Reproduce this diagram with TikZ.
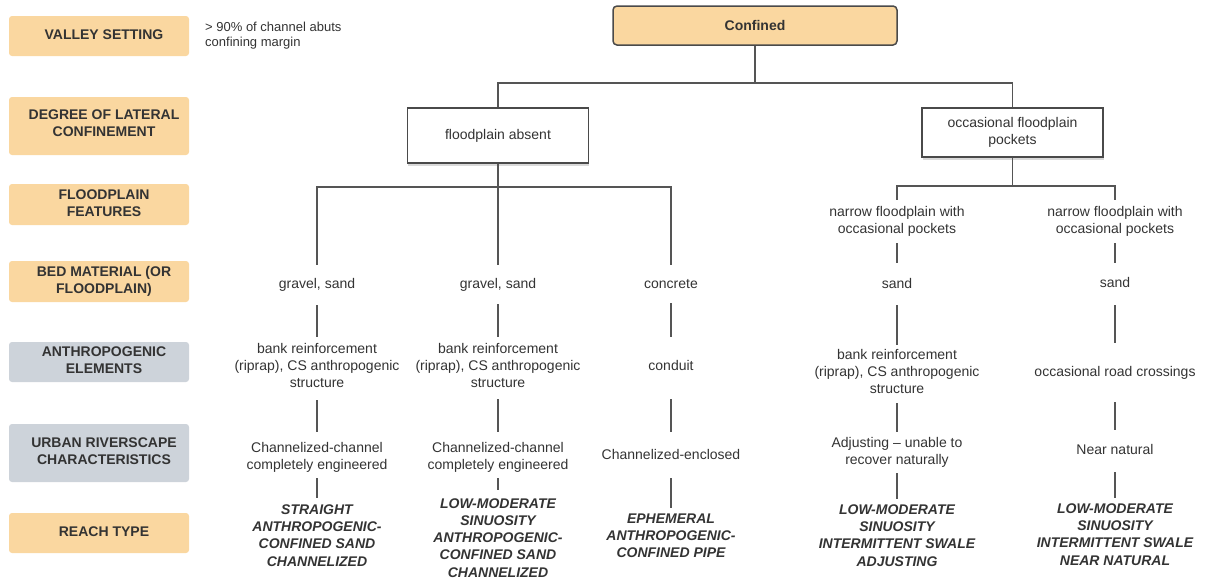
\documentclass[tikz,border=0pt]{standalone}
\usepackage{fontspec}
\setmainfont{Liberation Sans}
\usetikzlibrary{shadows}
\definecolor{orng}{HTML}{FAD7A0}
\definecolor{grayb}{HTML}{CDD3DA}
\definecolor{txt}{HTML}{333333}
\definecolor{lin}{HTML}{555555}
\definecolor{bord}{HTML}{4A4A4A}
\newcommand{\myfs}{\fontsize{14}{17}\selectfont}
\newcommand{\myfsr}{\fontsize{14}{17.3}\selectfont}
\newcommand{\myfsn}{\fontsize{13}{15}\selectfont}
\tikzset{
  lblbox/.style={rectangle, rounded corners=3pt, minimum width=180pt, inner sep=0pt},
  obox/.style={lblbox, fill=orng},
  gbox/.style={lblbox, fill=grayb},
  lbltext/.style={inner sep=0pt, align=center, text=txt, font=\bfseries\myfs},
  tnode/.style={inner sep=0pt, align=center, text=txt, font=\myfs},
  rnode/.style={inner sep=0pt, align=center, text=txt, font=\bfseries\itshape\myfsr},
  conn/.style={draw=lin, line width=1.1pt},
  wbox/.style={rectangle, draw=bord, line width=1.5pt, fill=white, minimum width=181pt,
    inner sep=0pt, align=center, text=txt, font=\myfs,
    drop shadow={shadow xshift=0.5pt, shadow yshift=-3pt, opacity=0.3}},
}
\begin{document}
\begin{tikzpicture}[x=1pt,y=-1pt]
\useasboundingbox (0,0) rectangle (1211,581);
% left category labels
\node[obox, minimum height=40pt] (l1) at (99,36) {};
\node[lbltext] (l1t) at ([xshift=5pt]l1.center) {\strut VALLEY SETTING};
\node[obox, minimum height=58pt] (l2) at (99,126) {};
\node[lbltext] (l2t) at ([xshift=5pt,yshift=1pt]l2.center) {\strut DEGREE OF LATERAL\\CONFINEMENT\strut};
\node[obox, minimum height=41pt] (l3) at (99,204.5) {};
\node[lbltext] (l3t) at ([xshift=5pt]l3.center) {\strut FLOODPLAIN\\FEATURES\strut};
\node[obox, minimum height=41pt] (l4) at (99,281.5) {};
\node[lbltext] (l4t) at ([xshift=5pt]l4.center) {\strut BED MATERIAL (OR\\FLOODPLAIN)\strut};
\node[gbox, minimum height=40pt] (l5) at (99,362) {};
\node[lbltext] (l5t) at ([xshift=5pt]l5.center) {\strut ANTHROPOGENIC\\ELEMENTS\strut};
\node[gbox, minimum height=58pt] (l6) at (99,453) {};
\node[lbltext] (l6t) at ([xshift=5pt]l6.center) {\strut URBAN RIVERSCAPE\\CHARACTERISTICS\strut};
\node[obox, minimum height=40pt] (l7) at (99,533) {};
\node[lbltext] (l7t) at ([xshift=5pt]l7.center) {\strut REACH TYPE};
% note
\node[inner sep=0pt, anchor=north west, align=left, text=txt, font=\myfsn] (note) at (205,21)
  {\strut > 90\% of channel abuts\\confining margin\strut};
% top of tree
\node[rectangle, rounded corners=4pt, draw=bord, line width=1.5pt, fill=orng,
  minimum width=284pt, minimum height=39pt, inner sep=0pt, text=txt, font=\bfseries\myfs]
  (conf) at (755,25.5) {Confined};
\node[wbox, minimum height=55pt] (fa) at (498,135.5) {floodplain absent};
\node[wbox, minimum height=49pt] (op) at (1012.5,132.5) {occasional floodplain\\pockets};
\coordinate (j1) at (755,83);
\coordinate (j2) at (498,187);
\coordinate (j3) at (1012.5,186);
% column 1
\node[tnode] (g1) at (317,284.6) {\strut gravel, sand};
\node[tnode] (b1) at (317,366.6) {\strut bank reinforcement\\(riprap), CS anthropogenic\\structure\strut};
\node[tnode] (c1) at (317,457.1) {\strut Channelized-channel\\completely engineered\strut};
\node[rnode] (r1) at (317,536.6) {\strut STRAIGHT\\ANTHROPOGENIC-\\CONFINED SAND\\CHANNELIZED\strut};
% column 2
\node[tnode] (g2) at (498,284.6) {\strut gravel, sand};
\node[tnode] (b2) at (498,366.6) {\strut bank reinforcement\\(riprap), CS anthropogenic\\structure\strut};
\node[tnode] (c2) at (498,457.1) {\strut Channelized-channel\\completely engineered\strut};
\node[rnode] (r2) at (498,539.2) {\strut LOW-MODERATE\\SINUOSITY\\ANTHROPOGENIC-\\CONFINED SAND\\CHANNELIZED\strut};
% column 3
\node[tnode] (g3) at (671,284.6) {\strut concrete};
\node[tnode] (cd3) at (671,366.6) {\strut conduit};
\node[tnode] (ce3) at (671,455.6) {\strut Channelized-enclosed};
\node[rnode] (r3) at (671,536.9) {\strut EPHEMERAL\\ANTHROPOGENIC-\\CONFINED PIPE\strut};
% column 4
\node[tnode] (n4) at (897,221.1) {\strut narrow floodplain with\\occasional pockets\strut};
\node[tnode] (s4) at (897,284.6) {\strut sand};
\node[tnode] (b4) at (897,372.6) {\strut bank reinforcement\\(riprap), CS anthropogenic\\structure\strut};
\node[tnode] (a4) at (897,452.1) {\strut Adjusting – unable to\\recover naturally\strut};
\node[rnode] (r4) at (897,536.6) {\strut LOW-MODERATE\\SINUOSITY\\INTERMITTENT SWALE\\ADJUSTING\strut};
% column 5
\node[tnode] (n5) at (1115,221.1) {\strut narrow floodplain with\\occasional pockets\strut};
\node[tnode] (s5) at (1115,283.6) {\strut sand};
\node[tnode] (o5) at (1115,372.6) {\strut occasional road crossings};
\node[tnode] (nn5) at (1115,450.6) {\strut Near natural};
\node[rnode] (r5) at (1115,535.6) {\strut LOW-MODERATE\\SINUOSITY\\INTERMITTENT SWALE\\NEAR NATURAL\strut};
% tree connectors
\draw[conn] (conf.south) -- (j1);
\draw[conn] (fa.north) |- (j1) -| (op.north);
\draw[conn] (fa.south) -- (j2);
\draw[conn, shorten >=11pt] (j2) -| (g1.north);
\draw[conn, shorten >=11pt] (j2) -- (g2.north);
\draw[conn, shorten >=11pt] (j2) -| (g3.north);
\draw[conn] (op.south) -- (j3);
\draw[conn, shorten >=4pt] (j3) -| (n4.north);
\draw[conn, shorten >=4pt] (j3) -| (n5.north);
% column 1 links
\draw[conn, shorten <=12pt, shorten >=4pt] (g1.south) -- (b1.north);
\draw[conn, shorten <=8pt, shorten >=8pt] (b1.south) -- (c1.north);
\draw[conn, shorten <=4pt, shorten >=4pt] (c1.south) -- (r1.north);
% column 2 links
\draw[conn, shorten <=11pt, shorten >=4pt] (g2.south) -- (b2.north);
\draw[conn, shorten <=7pt, shorten >=8pt] (b2.south) -- (c2.north);
\draw[conn, shorten <=4pt, shorten >=6pt] (c2.south) -- (r2.north);
% column 3 links
\draw[conn, shorten <=10pt, shorten >=21pt] (g3.south) -- (cd3.north);
\draw[conn, shorten <=24pt, shorten >=15pt] (cd3.south) -- (ce3.north);
\draw[conn, shorten <=14pt, shorten >=3pt] (ce3.south) -- (r3.north);
% column 4 links
\draw[conn, shorten <=5pt, shorten >=13pt] (n4.south) -- (s4.north);
\draw[conn, shorten <=12pt, shorten >=2pt] (s4.south) -- (b4.north);
\draw[conn, shorten <=5pt, shorten >=3pt] (b4.south) -- (a4.north);
\draw[conn, shorten <=4pt, shorten >=3pt] (a4.south) -- (r4.north);
% column 5 links
\draw[conn, shorten <=5pt, shorten >=12pt] (n5.south) -- (s5.north);
\draw[conn, shorten <=13pt, shorten >=21pt] (s5.south) -- (o5.north);
\draw[conn, shorten <=21pt, shorten >=12pt] (o5.south) -- (nn5.north);
\draw[conn, shorten <=13pt, shorten >=3pt] (nn5.south) -- (r5.north);
\end{tikzpicture}
\end{document}
